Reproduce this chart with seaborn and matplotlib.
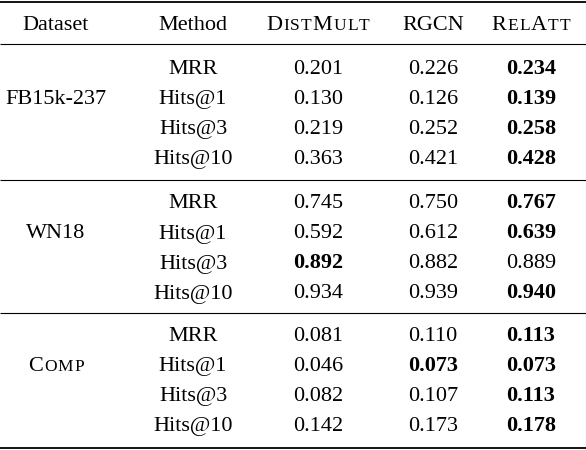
import pandas as pd
import matplotlib
matplotlib.use("Agg")
import matplotlib.pyplot as plt
from matplotlib import font_manager
from matplotlib.ft2font import FT2Font
import seaborn as sns

# table contents
datasets = ["FB15k-237", "WN18", "Comp"]
methods = ["MRR", "Hits@1", "Hits@3", "Hits@10"]
distmult = [0.201, 0.130, 0.219, 0.363,
            0.745, 0.592, 0.892, 0.934,
            0.081, 0.046, 0.082, 0.142]
rgcn = [0.226, 0.126, 0.252, 0.421,
        0.750, 0.612, 0.882, 0.939,
        0.110, 0.073, 0.107, 0.173]
relatt = [0.234, 0.139, 0.258, 0.428,
          0.767, 0.639, 0.889, 0.940,
          0.113, 0.073, 0.113, 0.178]
header = ["Dataset", "Method", "DistMult", "RGCN", "RelAtt"]
smallcap_words = {"DistMult", "RelAtt", "Comp"}

df = pd.DataFrame({
    "dataset": [d for d in datasets for _ in methods],
    "method": methods * len(datasets),
    "DistMult": distmult,
    "RGCN": rgcn,
    "RelAtt": relatt,
})
model_cols = ["DistMult", "RGCN", "RelAtt"]

sns.set_theme(style="white")
plt.rcParams["font.family"] = ["Liberation Serif", "DejaVu Serif"]

W, H = 586, 450
DPI = 100
fig = plt.figure(figsize=(W / DPI, H / DPI), dpi=DPI)
ax = fig.add_axes([0, 0, 1, 1])
ax.set_xlim(0, W)
ax.set_ylim(H, 0)
ax.axis("off")

FS = 16.0      # points
SC = 0.78      # small caps scale
TRACK = 1.1    # px letter spacing inside small caps words
col_x = [56, 193, 318, 433, 531]

font_path = font_manager.findfont(font_manager.FontProperties(family="Liberation Serif"))
ft = FT2Font(font_path)


def advance(ch, size):
    ft.set_size(size, DPI)
    g = ft.load_char(ord(ch))
    return g.linearHoriAdvance / 65536.0


def smallcaps(x, y, word, size):
    # fake small caps: lowercase letters drawn as smaller capitals
    glyphs = [(ch.upper(), size * SC if ch.islower() else size) for ch in word]
    widths = [advance(c, sz) for c, sz in glyphs]
    total = sum(widths) + TRACK * (len(glyphs) - 1)
    x0 = x - total / 2
    for (c, sz), w in zip(glyphs, widths):
        ax.text(x0, y, c, fontsize=sz, ha="left", va="baseline", color="black")
        x0 += w + TRACK


def cell(x, y, s, bold=False):
    if s in smallcap_words:
        smallcaps(x, y, s, FS)
    else:
        ax.text(x, y, s, fontsize=FS, ha="center", va="baseline",
                fontweight="bold" if bold else "normal", color="black")


# rules
for y, lw in [(2, 1.3), (43.5, 0.8), (179.5, 0.8), (313, 0.8), (447.5, 1.3)]:
    ax.plot([0, W], [y, y], color="black", lw=lw, solid_capstyle="butt")

for x, h in zip(col_x, header):
    cell(x, 30, h)

block_start = [74, 208.5, 341]
pitch = 30
for b, ds in enumerate(datasets):
    sub = df[df["dataset"] == ds].reset_index(drop=True)
    y0 = block_start[b]
    cell(col_x[0], y0 + pitch, ds)
    for i, row in sub.iterrows():
        y = y0 + i * pitch
        cell(col_x[1], y, row["method"])
        best = max(row[c] for c in model_cols)
        for j, c in enumerate(model_cols):
            cell(col_x[2 + j], y, f"{row[c]:.3f}", bold=(row[c] == best))

fig.savefig("out.png", dpi=DPI, facecolor="white")
